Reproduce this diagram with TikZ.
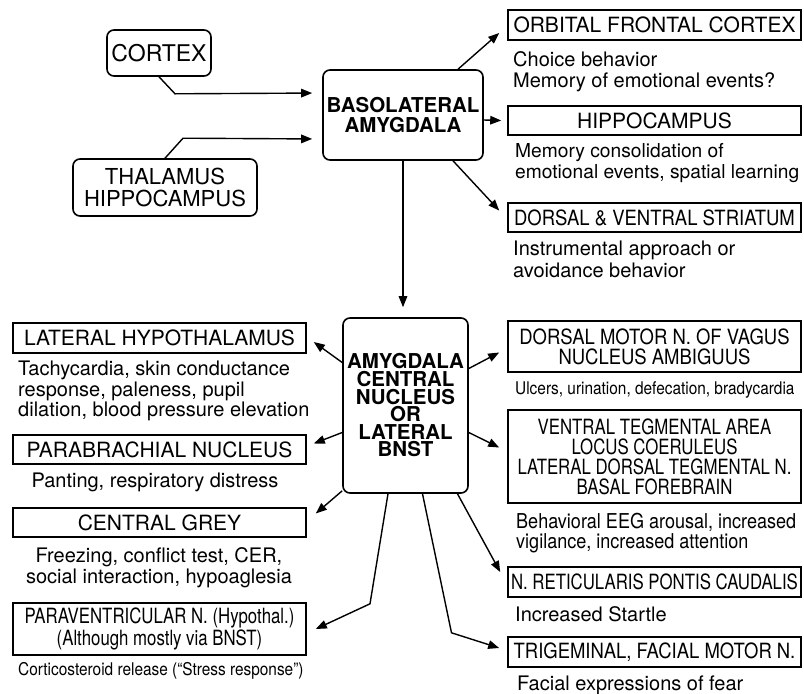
\documentclass[tikz,border=0pt]{standalone}
\usepackage{fontspec}
\setmainfont{TeX Gyre Heros}
\newfontfamily\condfont[FakeStretch=0.88]{TeX Gyre Heros}
\newfontfamily\narrowfont[FakeStretch=0.8]{TeX Gyre Heros}
\usetikzlibrary{arrows.meta}

\newcommand\titlesize{\fontsize{21}{20}\selectfont}
\newcommand\notesize{\fontsize{20}{21}\selectfont}
\newcommand\smallnote{\condfont\fontsize{17.5}{20}\selectfont}

\begin{document}
\begin{tikzpicture}[x=1pt, y=-1pt,
  srcbox/.style={draw, rounded corners=7pt, line width=1.6pt, align=center,
                 inner sep=0pt, font=\fontsize{22}{22}\selectfont},
  hub/.style={draw, rounded corners=7pt, line width=1.6pt, align=center,
              inner sep=0pt, font=\bfseries\fontsize{20.5}{17.6}\selectfont},
  target/.style={draw, line width=1.6pt, minimum width=293pt, align=center,
                 inner sep=0pt, font=\titlesize},
  note/.style={inner sep=0pt, align=left, anchor=north west, font=\notesize},
  cnote/.style={inner sep=0pt, align=center, anchor=north, font=\notesize},
  link/.style={line width=1.4pt, -{Triangle[length=11pt,width=8.5pt]}}]

  \useasboundingbox (0,0) rectangle (804,694);

  % inputs to the basolateral amygdala
  \node[srcbox, minimum width=104pt, minimum height=46pt,
        font=\fontsize{23}{22}\selectfont] (cortex) at (159,53) {CORTEX};
  \node[srcbox, minimum width=184pt, minimum height=57pt] (thal) at (165,187.5) {THALAMUS\\HIPPOCAMPUS};

  % the two amygdala hubs
  \node[hub, minimum width=160pt, minimum height=90pt,
        font=\bfseries\fontsize{20.5}{20}\selectfont] (bla) at (403,115) {BASOLATERAL\\AMYGDALA};
  \node[hub, minimum width=125pt, minimum height=175pt] (cen) at (405.5,405.5)
    {AMYGDALA\\CENTRAL\\NUCLEUS\\OR\\LATERAL\\BNST};

  % basolateral targets (right, top)
  \node[target, minimum height=30pt] (ofc) at (654.5,25) {ORBITAL FRONTAL CORTEX};
  \node[target, minimum height=29pt] (hip) at (654.5,120.5) {HIPPOCAMPUS};
  \node[target, minimum height=29pt, font=\condfont\titlesize] (str) at (654.5,217.5)
    {DORSAL \& VENTRAL STRIATUM};

  \node[note] (ofcnote) at (513,51) {Choice behavior\\Memory of emotional events?};
  \node[note, font=\fontsize{19.2}{21}\selectfont] (hipnote) at (515,143)
    {Memory consolidation of\\emotional events, spatial learning};
  \node[note, font=\fontsize{20}{22}\selectfont] (strnote) at (513,241) {Instrumental approach or\\avoidance behavior};

  % central nucleus targets (right, bottom)
  \node[target, minimum height=51pt, font=\condfont\titlesize] (dmv) at (654.5,346.5)
    {DORSAL MOTOR N. OF VAGUS\\NUCLEUS AMBIGUUS};
  \node[target, minimum height=93pt, font=\narrowfont\titlesize] (vta) at (654.5,456.5)
    {VENTRAL TEGMENTAL AREA\\LOCUS COERULEUS\\LATERAL DORSAL TEGMENTAL N.\\BASAL FOREBRAIN};
  \node[target, minimum height=30pt, font=\narrowfont\titlesize] (nrpc) at (654.5,582)
    {N. RETICULARIS PONTIS CAUDALIS};
  \node[target, minimum height=30pt, font=\condfont\titlesize] (trig) at (654.5,652)
    {TRIGEMINAL, FACIAL MOTOR N.};

  \node[note, font=\smallnote] (dmvnote) at (515,381) {Ulcers, urination, defecation, bradycardia};
  \node[note, font=\condfont\fontsize{20.5}{20}\selectfont] (vtanote) at (516,513)
    {Behavioral EEG arousal, increased\\vigilance, increased attention};
  \node[note] (nrpcnote) at (515,606) {Increased Startle};
  \node[note] (trignote) at (517,676) {Facial expressions of fear};

  % central nucleus targets (left)
  \node[target, minimum height=30pt] (lh) at (159.5,338) {LATERAL HYPOTHALAMUS};
  \node[target, minimum height=29pt] (pb) at (159.5,449.5) {PARABRACHIAL NUCLEUS};
  \node[target, minimum height=29pt] (cg) at (159.5,522.5) {CENTRAL GREY};
  \node[target, minimum height=52pt, font=\narrowfont\titlesize] (pvn) at (159.5,629)
    {PARAVENTRICULAR N. (Hypothal.)\\(Although mostly via BNST)};

  \node[note, font=\fontsize{20}{20.5}\selectfont] (lhnote) at (18,361)
    {Tachycardia, skin conductance\\response, paleness, pupil\\dilation, blood pressure elevation};
  \node[cnote] (pbnote) at (155,473) {Panting, respiratory distress};
  \node[cnote] (cgnote) at (159,547) {Freezing, conflict test, CER,\\social interaction, hypoaglesia};
  \node[note, font=\smallnote] (pvnnote) at (18,662) {Corticosteroid release (“Stress response”)};

  % inputs
  \draw[link, shorten >=10pt] (cortex.south) -- ++(16,17) -- ([yshift=22pt]bla.west);
  \draw[link, shorten >=10pt] (thal.north) -- ++(18,-20) -- ([yshift=-24pt]bla.west);

  % basolateral outputs
  \draw[link] ([xshift=55pt]bla.north) -- ([xshift=-8pt,yshift=-8pt]ofc.west);
  \draw[link] ([yshift=-5pt]bla.east) -- ([xshift=-6pt]hip.west);
  \draw[link] ([xshift=50pt]bla.south) -- ([xshift=-8pt,yshift=7pt]str.west);
  \draw[link, shorten >=10pt] (bla.south) -- (bla.south |- cen.north);

  % central outputs, right side
  \draw[link] ([yshift=37pt]cen.east) -- ([xshift=-8pt,yshift=-6pt]dmv.west);
  \draw[link] ([yshift=-27pt]cen.east) -- ([xshift=-8pt,yshift=9pt]vta.west);
  \draw[link] ([xshift=52pt]cen.south) -- ([xshift=-7pt,yshift=10pt]nrpc.west);
  \draw[link] ([xshift=17pt]cen.south) -- ++(29,139) -- ([xshift=-8pt,yshift=4pt]trig.west);

  % central outputs, left side
  \draw[link] ([yshift=43pt]cen.west) -- ([xshift=7pt,yshift=-4pt]lh.east);
  \draw[link] ([yshift=-27pt]cen.west) -- ([xshift=7pt,yshift=6pt]pb.east);
  \draw[link] ([yshift=3pt]cen.south west) -- ([xshift=9pt,yshift=9pt]cg.east);
  \draw[link] ([xshift=-17.5pt]cen.south) -- ++(-18,110) -- ([xshift=9pt]pvn.east);
\end{tikzpicture}
\end{document}
